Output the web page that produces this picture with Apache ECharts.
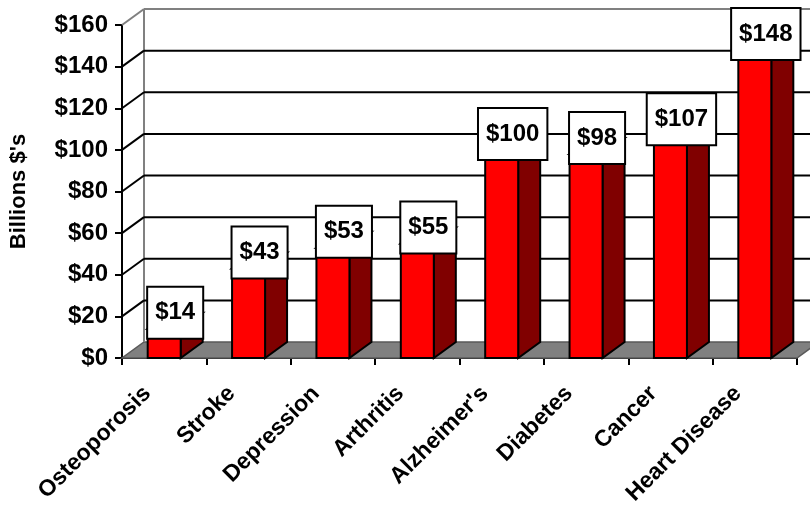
<!DOCTYPE html>
<html>
<head>
<meta charset="utf-8">
<script src="https://cdn.jsdelivr.net/npm/echarts@6/dist/echarts.min.js"></script>
<style>
  html, body { margin: 0; padding: 0; background: #ffffff; }
  #chart { width: 810px; height: 508px; }
</style>
</head>
<body>
<div id="chart"></div>
<script>
// Annual cost by condition, billions of dollars
const categories = ['Osteoporosis', 'Stroke', 'Depression', 'Arthritis', "Alzheimer's", 'Diabetes', 'Cancer', 'Heart Disease'];
const costs = [14, 43, 53, 55, 100, 98, 107, 148];
const yTicks = [0, 20, 40, 60, 80, 100, 120, 140, 160];

// Depth of the pseudo-3D box (screen pixels)
const DX = 22;
const DY = -16;
const BAR_HALF = 16.5;
const FONT = 'Arial, "Liberation Sans", sans-serif';

const chart = echarts.init(document.getElementById('chart'), null, { renderer: 'canvas' });

function frameItem(params, api) {
  const v = api.value(1);
  const band = api.size([1, 0])[0];
  const left = api.coord([0, v])[0] - band / 2;
  const right = api.coord([categories.length - 1, v])[0] + band / 2;
  const y = api.coord([0, v])[1];
  const top = v === yTicks[yTicks.length - 1];
  const col = top ? '#808080' : '#000000';
  const children = [];
  if (v === 0) {
    const yTop = api.coord([0, yTicks[yTicks.length - 1]])[1];
    children.push({
      type: 'polygon',
      shape: { points: [[left, y], [right, y], [right + DX, y + DY], [left + DX, y + DY]] },
      style: { fill: '#808080', stroke: '#5a5a5a', lineWidth: 1.5 }
    });
    children.push({
      type: 'line',
      shape: { x1: left + DX, y1: y + DY, x2: left + DX, y2: yTop + DY },
      style: { stroke: '#808080', lineWidth: 2 }
    });
  } else {
    children.push({
      type: 'line',
      shape: { x1: left + DX, y1: y + DY, x2: right + DX, y2: y + DY },
      style: { stroke: col, lineWidth: 2 }
    });
    children.push({
      type: 'line',
      shape: { x1: left, y1: y, x2: left + DX, y2: y + DY },
      style: { stroke: col, lineWidth: 2 }
    });
  }
  return { type: 'group', children: children };
}

function barItem(params, api) {
  const idx = api.value(0);
  const v = api.value(1);
  const p = api.coord([idx, v]);
  const b = api.coord([idx, 0]);
  const x0 = p[0] - BAR_HALF;
  const x1 = p[0] + BAR_HALF;
  return {
    type: 'group',
    children: [
      {
        type: 'polygon',
        shape: { points: [[x0, p[1]], [x1, p[1]], [x1 + DX, p[1] + DY], [x0 + DX, p[1] + DY]] },
        style: { fill: '#ff0000', stroke: '#000', lineWidth: 2 }
      },
      {
        type: 'polygon',
        shape: { points: [[x1, p[1]], [x1 + DX, p[1] + DY], [x1 + DX, b[1] + DY], [x1, b[1]]] },
        style: { fill: '#800000', stroke: '#000', lineWidth: 2 }
      },
      {
        type: 'rect',
        shape: { x: x0, y: p[1], width: x1 - x0, height: b[1] - p[1] },
        style: { fill: '#ff0000', stroke: '#000', lineWidth: 2 }
      },
      {
        type: 'text',
        x: p[0] + DX / 2,
        y: p[1] + DY,
        style: {
          text: '$' + v,
          font: 'bold 24px ' + FONT,
          fill: '#000',
          align: 'center',
          verticalAlign: 'middle',
          lineHeight: 24,
          backgroundColor: '#ffffff',
          borderColor: '#000',
          borderWidth: 2,
          padding: [13, 7, 13, 7]
        }
      }
    ]
  };
}

chart.setOption({
  animation: false,
  backgroundColor: '#ffffff',
  grid: { left: 120, right: 13, top: 25, bottom: 150, containLabel: false },
  xAxis: {
    type: 'category',
    data: categories,
    boundaryGap: true,
    axisLine: { show: true, lineStyle: { color: '#000', width: 2 } },
    axisTick: { show: true, length: 7, lineStyle: { color: '#000', width: 2 } },
    axisLabel: {
      rotate: 45,
      interval: 0,
      margin: 15,
      color: '#000',
      fontFamily: FONT,
      fontWeight: 'bold',
      fontSize: 23,
      padding: [0, 24, 0, 0]
    },
    splitLine: { show: false }
  },
  yAxis: {
    type: 'value',
    min: 0,
    max: 160,
    interval: 20,
    name: "Billions $'s",
    nameLocation: 'middle',
    nameGap: 92,
    nameTextStyle: { color: '#000', fontFamily: FONT, fontWeight: 'bold', fontSize: 22 },
    axisLine: { show: true, lineStyle: { color: '#000', width: 2 } },
    axisTick: { show: true, length: 7, lineStyle: { color: '#000', width: 2 } },
    axisLabel: {
      margin: 14,
      color: '#000',
      fontFamily: FONT,
      fontWeight: 'bold',
      fontSize: 24,
      formatter: function (val) { return '$' + val; }
    },
    splitLine: { show: false }
  },
  series: [
    {
      type: 'custom',
      name: 'frame',
      clip: false,
      z: 1,
      renderItem: frameItem,
      encode: { x: 0, y: 1 },
      data: yTicks.map(function (t) { return [0, t]; })
    },
    {
      type: 'custom',
      name: 'cost',
      clip: false,
      z: 3,
      renderItem: barItem,
      encode: { x: 0, y: 1 },
      data: costs.map(function (c, i) { return [i, c]; })
    }
  ]
});
</script>
</body>
</html>
